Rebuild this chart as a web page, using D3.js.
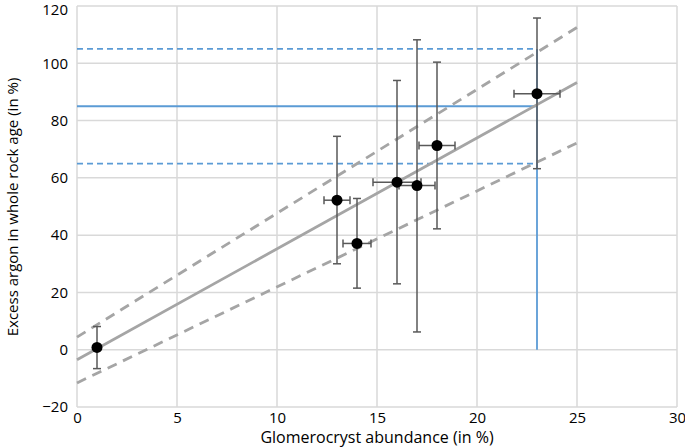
<!DOCTYPE html>
<html>
<head>
<meta charset="utf-8">
<script src="https://cdn.jsdelivr.net/npm/d3@7"></script>
<style>
  body { margin: 0; background: #fff; }
  text { font-family: "Open Sans", "Noto Sans", sans-serif; fill: #000; }
</style>
</head>
<body>
<svg id="chart" width="685" height="447"></svg>
<script>
// samples: glomerocryst abundance vs excess argon
var abundance = [1, 13, 14, 16, 17, 18, 23];
var argon     = [0.8, 52.2, 37.1, 58.5, 57.3, 71.3, 89.4];
var argonHi   = [8.1, 74.5, 52.8, 94, 108.2, 100.4, 115.8];
var argonLo   = [-6.6, 30, 21.5, 23, 6.2, 42.2, 63.2];
var abundErr  = [0, 0.65, 0.7, 1.2, 0.9, 0.9, 1.15];

// fit line and bounds [x0, y0, x1, y1]
var fitLine   = [0, -3.5, 25, 93.3];
var upperLine = [0, 4.4, 25, 112.5];
var lowerLine = [0, -11.6, 25, 72.2];

// read-off at x = 23
var readX = 23;
var readY = [85, 105, 65];

var xTicks = [0, 5, 10, 15, 20, 25, 30];
var yTicks = [-20, 0, 20, 40, 60, 80, 100, 120];

var svg = d3.select("#chart");
var x = d3.scaleLinear().domain([0, 30]).range([77, 677]);
var y = d3.scaleLinear().domain([-20, 120]).range([407, 6]);

//gridlines
svg.append("g").selectAll("line")
    .data(xTicks)
    .enter().append("line")
    .attr("x1", d => x(d)).attr("x2", d => x(d))
    .attr("y1", y(120)).attr("y2", y(-20))
    .attr("stroke", "#d9d9d9").attr("stroke-width", 1.5);
svg.append("g").selectAll("line")
    .data(yTicks)
    .enter().append("line")
    .attr("x1", x(0)).attr("x2", x(30))
    .attr("y1", d => y(d)).attr("y2", d => y(d))
    .attr("stroke", "#d9d9d9").attr("stroke-width", 1.5);

//axes (labels only)
var xAxis = svg.append("g")
    .attr("transform", "translate(0," + y(-20) + ")")
    .call(d3.axisBottom(x).tickValues(xTicks).tickSize(0).tickPadding(5));
var yAxis = svg.append("g")
    .attr("transform", "translate(" + x(0) + ",0)")
    .call(d3.axisLeft(y).tickValues(yTicks).tickSize(0).tickPadding(9));
[xAxis, yAxis].forEach(function(a) {
    a.select(".domain").remove();
    a.selectAll("text")
        .style("font-family", "'Open Sans', sans-serif")
        .style("font-size", "15px")
        .attr("fill", "#000");
});
// keep top label inside the frame
yAxis.selectAll(".tick text").filter(d => d === 120).attr("dy", "0.55em");

//blue read-off lines
readY.forEach(function(v, i) {
    svg.append("line")
        .attr("x1", x(0)).attr("x2", x(readX))
        .attr("y1", y(v)).attr("y2", y(v))
        .attr("stroke", "#5b9bd5").attr("stroke-width", 1.8)
        .attr("stroke-dasharray", i === 0 ? null : "6,4");
});
svg.append("line")
    .attr("x1", x(readX)).attr("x2", x(readX))
    .attr("y1", y(0)).attr("y2", y(readY[1]))
    .attr("stroke", "#5b9bd5").attr("stroke-width", 1.8);

//fit and bounds
function drawLine(l, dashed) {
    svg.append("line")
        .attr("x1", x(l[0])).attr("y1", y(l[1]))
        .attr("x2", x(l[2])).attr("y2", y(l[3]))
        .attr("stroke", "#a5a5a5").attr("stroke-width", 2.8)
        .attr("stroke-dasharray", dashed ? "10,7" : null);
}
drawLine(fitLine, false);
drawLine(upperLine, true);
drawLine(lowerLine, true);

//error bars
var data = abundance.map((d, i) => ({x: d, y: argon[i], hi: argonHi[i], lo: argonLo[i], ex: abundErr[i]}));
var eb = svg.append("g").attr("stroke", "#595959").attr("stroke-width", 1.5);
data.forEach(function(d) {
    eb.append("line").attr("x1", x(d.x)).attr("x2", x(d.x)).attr("y1", y(d.hi)).attr("y2", y(d.lo));
    eb.append("line").attr("x1", x(d.x) - 4).attr("x2", x(d.x) + 4).attr("y1", y(d.hi)).attr("y2", y(d.hi));
    eb.append("line").attr("x1", x(d.x) - 4).attr("x2", x(d.x) + 4).attr("y1", y(d.lo)).attr("y2", y(d.lo));
    if (d.ex > 0) {
        eb.append("line").attr("x1", x(d.x - d.ex)).attr("x2", x(d.x + d.ex)).attr("y1", y(d.y)).attr("y2", y(d.y));
        eb.append("line").attr("x1", x(d.x - d.ex)).attr("x2", x(d.x - d.ex)).attr("y1", y(d.y) - 4).attr("y2", y(d.y) + 4);
        eb.append("line").attr("x1", x(d.x + d.ex)).attr("x2", x(d.x + d.ex)).attr("y1", y(d.y) - 4).attr("y2", y(d.y) + 4);
    }
});

//points
svg.selectAll("circle.point")
    .data(data)
    .enter().append("circle")
    .attr("class", "point")
    .attr("cx", d => x(d.x))
    .attr("cy", d => y(d.y))
    .attr("r", 5.5)
    .attr("fill", "#000");

//axis titles
svg.append("text")
    .attr("x", 377).attr("y", 443)
    .attr("text-anchor", "middle")
    .style("font-size", "16px")
    .text("Glomerocryst abundance (in %)");
svg.append("text")
    .attr("transform", "translate(18," + 207 + ") rotate(-90)")
    .attr("text-anchor", "middle")
    .style("font-size", "15px")
    .text("Excess argon in whole rock age (in %)");
</script>
</body>
</html>
